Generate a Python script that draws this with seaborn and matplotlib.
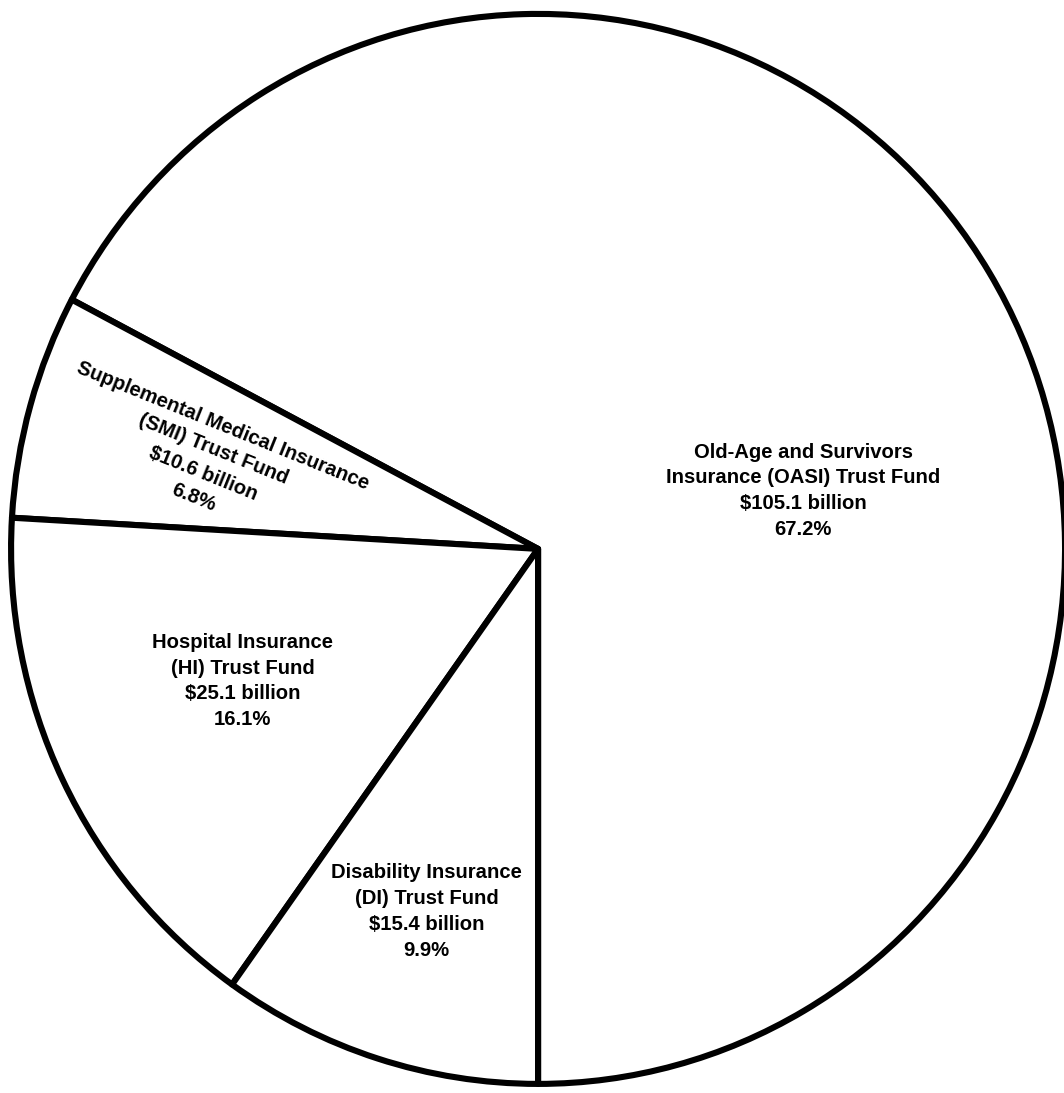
import matplotlib
matplotlib.use("Agg")
import matplotlib.pyplot as plt
import seaborn as sns

# Trust fund data
funds = ["Old-Age and Survivors\nInsurance (OASI) Trust Fund",
         "Supplemental Medical Insurance\n(SMI) Trust Fund",
         "Hospital Insurance\n(HI) Trust Fund",
         "Disability Insurance\n(DI) Trust Fund"]
billions = [105.1, 10.6, 25.1, 15.4]
percents = [67.2, 6.8, 16.1, 9.9]

sns.set_style("white")
plt.rcParams["font.family"] = ["Liberation Sans", "DejaVu Sans"]

fig = plt.figure(figsize=(10.64, 10.93), dpi=100)
ax = fig.add_axes([0, 0, 1, 1])

ax.pie(billions, startangle=-90, counterclock=True, radius=1.0,
       colors=["white"] * len(billions),
       wedgeprops=dict(edgecolor="black", linewidth=4.4, joinstyle="round"))
ax.set_aspect("auto")
ax.set_xlim(-1.021, 0.998)
ax.set_ylim(-1.017, 1.026)
ax.axis("off")

# label placement (axes fraction) and rotation
label_pos = [(0.755, 0.551, 0), (0.196, 0.578, -22), (0.228, 0.377, 0), (0.401, 0.166, 0)]
for name, b, p, (x, y, rot) in zip(funds, billions, percents, label_pos):
    txt = f"{name}\n${b} billion\n{p}%"
    ax.text(x, y, txt, transform=ax.transAxes, ha="center", va="center",
            multialignment="center", rotation=rot, rotation_mode="anchor",
            fontsize=14.6, fontweight="bold", linespacing=1.45, color="black")

plt.savefig("out.png", dpi=100, facecolor="white")
